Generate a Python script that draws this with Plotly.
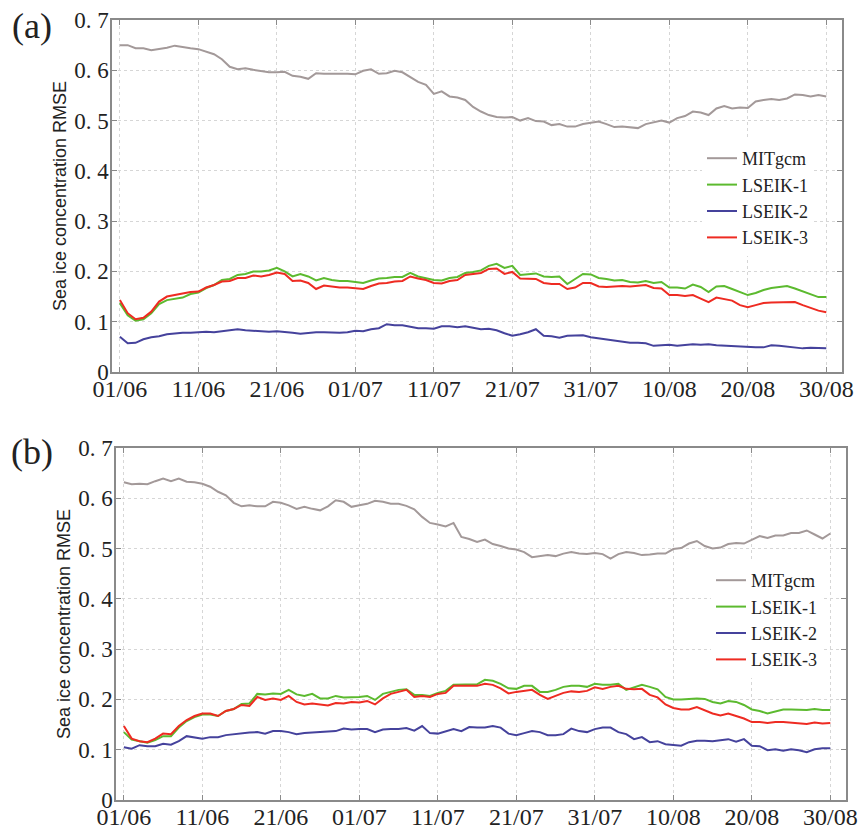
import plotly.graph_objects as go

days = list(range(91))
tick_days = [0, 10, 20, 30, 40, 50, 60, 70, 80, 90]
tick_labels = ["01/06", "11/06", "21/06", "01/07", "11/07", "21/07", "31/07", "10/08", "20/08", "30/08"]
y_ticks = [0, 0.1, 0.2, 0.3, 0.4, 0.5, 0.6, 0.7]
y_tick_labels = ["0", "0. 1", "0. 2", "0. 3", "0. 4", "0. 5", "0. 6", "0. 7"]
series_names = ["MITgcm", "LSEIK-1", "LSEIK-2", "LSEIK-3"]

# Panel (a)
a_mitgcm = [0.650, 0.650, 0.644, 0.644, 0.640, 0.642, 0.645, 0.649, 0.646, 0.644,
            0.642, 0.637, 0.632, 0.622, 0.607, 0.602, 0.604, 0.601, 0.599, 0.596,
            0.596, 0.597, 0.589, 0.587, 0.583, 0.594, 0.593, 0.593, 0.594, 0.593,
            0.592, 0.599, 0.602, 0.593, 0.594, 0.599, 0.596, 0.587, 0.577, 0.571,
            0.553, 0.558, 0.548, 0.546, 0.541, 0.527, 0.518, 0.511, 0.507, 0.506,
            0.507, 0.500, 0.505, 0.499, 0.498, 0.491, 0.493, 0.488, 0.488, 0.493,
            0.495, 0.498, 0.493, 0.487, 0.488, 0.486, 0.485, 0.493, 0.496, 0.500,
            0.496, 0.505, 0.509, 0.518, 0.516, 0.511, 0.524, 0.529, 0.524, 0.526,
            0.525, 0.538, 0.541, 0.543, 0.541, 0.544, 0.552, 0.551, 0.548, 0.551,
            0.548]
a_lseik1 = [0.137, 0.113, 0.102, 0.105, 0.117, 0.135, 0.143, 0.145, 0.148, 0.155,
            0.158, 0.167, 0.173, 0.183, 0.185, 0.193, 0.195, 0.200, 0.200, 0.202,
            0.207, 0.200, 0.190, 0.195, 0.190, 0.182, 0.187, 0.183, 0.181, 0.181,
            0.179, 0.177, 0.182, 0.186, 0.187, 0.189, 0.189, 0.197, 0.190, 0.186,
            0.183, 0.182, 0.187, 0.189, 0.197, 0.199, 0.202, 0.211, 0.215, 0.207,
            0.211, 0.193, 0.195, 0.196, 0.190, 0.189, 0.190, 0.175, 0.185, 0.195,
            0.194, 0.187, 0.185, 0.182, 0.183, 0.179, 0.178, 0.181, 0.177, 0.179,
            0.168, 0.168, 0.166, 0.174, 0.169, 0.159, 0.170, 0.171, 0.165, 0.159,
            0.153, 0.157, 0.163, 0.167, 0.169, 0.171, 0.166, 0.160, 0.155, 0.149,
            0.149]
a_lseik2 = [0.070, 0.057, 0.058, 0.065, 0.069, 0.071, 0.075, 0.077, 0.078, 0.078,
            0.079, 0.080, 0.079, 0.081, 0.082, 0.085, 0.083, 0.082, 0.081, 0.080,
            0.081, 0.080, 0.078, 0.076, 0.078, 0.079, 0.079, 0.078, 0.078, 0.079,
            0.082, 0.081, 0.085, 0.087, 0.095, 0.093, 0.093, 0.090, 0.087, 0.087,
            0.086, 0.091, 0.091, 0.089, 0.091, 0.088, 0.085, 0.086, 0.083, 0.077,
            0.072, 0.075, 0.079, 0.085, 0.072, 0.071, 0.068, 0.072, 0.073, 0.073,
            0.069, 0.067, 0.065, 0.063, 0.061, 0.058, 0.058, 0.057, 0.052, 0.053,
            0.054, 0.052, 0.054, 0.055, 0.054, 0.055, 0.053, 0.052, 0.052, 0.051,
            0.050, 0.049, 0.049, 0.053, 0.052, 0.050, 0.049, 0.047, 0.048, 0.047,
            0.047]
a_lseik3 = [0.143, 0.117, 0.105, 0.108, 0.120, 0.140, 0.150, 0.153, 0.155, 0.159,
            0.160, 0.168, 0.173, 0.180, 0.181, 0.187, 0.187, 0.192, 0.190, 0.193,
            0.198, 0.195, 0.181, 0.182, 0.177, 0.165, 0.172, 0.170, 0.168, 0.168,
            0.167, 0.165, 0.171, 0.176, 0.177, 0.180, 0.181, 0.190, 0.186, 0.183,
            0.177, 0.176, 0.181, 0.183, 0.193, 0.195, 0.197, 0.205, 0.206, 0.195,
            0.199, 0.186, 0.185, 0.185, 0.177, 0.175, 0.175, 0.165, 0.168, 0.177,
            0.177, 0.170, 0.169, 0.170, 0.171, 0.170, 0.171, 0.173, 0.167, 0.166,
            0.153, 0.153, 0.151, 0.153, 0.146, 0.139, 0.148, 0.145, 0.142, 0.133,
            0.129, 0.133, 0.137, 0.138, 0.138, 0.138, 0.139, 0.133, 0.127, 0.122,
            0.119]

# Panel (b)
b_mitgcm = [0.632, 0.628, 0.629, 0.628, 0.634, 0.639, 0.634, 0.639, 0.633, 0.632,
            0.629, 0.623, 0.613, 0.606, 0.591, 0.584, 0.586, 0.584, 0.584, 0.593,
            0.591, 0.586, 0.579, 0.583, 0.579, 0.576, 0.584, 0.596, 0.593, 0.583,
            0.586, 0.589, 0.595, 0.593, 0.589, 0.589, 0.585, 0.578, 0.563, 0.551,
            0.548, 0.544, 0.551, 0.523, 0.519, 0.513, 0.518, 0.509, 0.505, 0.500,
            0.498, 0.493, 0.483, 0.485, 0.487, 0.485, 0.490, 0.493, 0.490, 0.489,
            0.491, 0.489, 0.480, 0.489, 0.493, 0.491, 0.487, 0.488, 0.490, 0.490,
            0.499, 0.501, 0.510, 0.515, 0.505, 0.500, 0.502, 0.509, 0.511, 0.510,
            0.518, 0.525, 0.521, 0.526, 0.526, 0.531, 0.531, 0.536, 0.528, 0.520,
            0.530]
b_lseik1 = [0.135, 0.120, 0.117, 0.114, 0.119, 0.127, 0.127, 0.144, 0.157, 0.165,
            0.170, 0.170, 0.167, 0.177, 0.181, 0.191, 0.192, 0.211, 0.210, 0.212,
            0.211, 0.219, 0.210, 0.207, 0.211, 0.202, 0.202, 0.207, 0.204, 0.204,
            0.205, 0.207, 0.199, 0.211, 0.215, 0.219, 0.220, 0.209, 0.209, 0.207,
            0.213, 0.217, 0.229, 0.229, 0.230, 0.230, 0.239, 0.237, 0.231, 0.222,
            0.221, 0.227, 0.227, 0.215, 0.215, 0.219, 0.225, 0.227, 0.227, 0.225,
            0.231, 0.229, 0.229, 0.231, 0.219, 0.224, 0.229, 0.225, 0.220, 0.205,
            0.200, 0.200, 0.201, 0.202, 0.201, 0.195, 0.192, 0.197, 0.195, 0.189,
            0.180, 0.177, 0.172, 0.176, 0.180, 0.180, 0.179, 0.179, 0.181, 0.179,
            0.179]
b_lseik2 = [0.105, 0.102, 0.109, 0.107, 0.107, 0.112, 0.110, 0.117, 0.127, 0.125,
            0.122, 0.125, 0.125, 0.129, 0.131, 0.133, 0.134, 0.135, 0.132, 0.137,
            0.137, 0.135, 0.131, 0.133, 0.134, 0.135, 0.135, 0.137, 0.142, 0.140,
            0.141, 0.141, 0.135, 0.140, 0.141, 0.141, 0.143, 0.138, 0.147, 0.133,
            0.132, 0.137, 0.141, 0.137, 0.145, 0.144, 0.144, 0.147, 0.144, 0.132,
            0.129, 0.133, 0.137, 0.135, 0.129, 0.129, 0.131, 0.142, 0.137, 0.135,
            0.141, 0.144, 0.144, 0.135, 0.131, 0.121, 0.125, 0.115, 0.117, 0.111,
            0.110, 0.108, 0.115, 0.118, 0.118, 0.117, 0.119, 0.121, 0.116, 0.121,
            0.108, 0.107, 0.099, 0.101, 0.098, 0.101, 0.099, 0.095, 0.101, 0.103,
            0.103]
b_lseik3 = [0.147, 0.122, 0.117, 0.115, 0.122, 0.132, 0.131, 0.147, 0.159, 0.167,
            0.172, 0.172, 0.167, 0.177, 0.181, 0.189, 0.187, 0.205, 0.199, 0.202,
            0.199, 0.207, 0.195, 0.190, 0.192, 0.190, 0.188, 0.193, 0.192, 0.195,
            0.194, 0.197, 0.190, 0.202, 0.211, 0.215, 0.219, 0.205, 0.207, 0.205,
            0.211, 0.213, 0.227, 0.227, 0.227, 0.227, 0.231, 0.229, 0.222, 0.212,
            0.215, 0.217, 0.219, 0.209, 0.201, 0.207, 0.213, 0.216, 0.215, 0.217,
            0.224, 0.221, 0.225, 0.227, 0.221, 0.220, 0.221, 0.209, 0.204, 0.190,
            0.183, 0.180, 0.180, 0.185, 0.179, 0.172, 0.168, 0.172, 0.167, 0.162,
            0.155, 0.155, 0.153, 0.155, 0.155, 0.154, 0.152, 0.151, 0.154, 0.152,
            0.153]

colors = ["#a39999", "#5cba2f", "#45429c", "#ee2b22"]

W, H = 861, 831
SERIF = "Liberation Serif"
SANS = "Liberation Sans"

fig = go.Figure()

panels = [
    ([a_mitgcm, a_lseik1, a_lseik2, a_lseik3], "x", "y", "legend"),
    ([b_mitgcm, b_lseik1, b_lseik2, b_lseik3], "x2", "y2", "legend2"),
]
for data, xa, ya, lg in panels:
    for name, vals, col in zip(series_names, data, colors):
        fig.add_trace(go.Scatter(
            x=days, y=vals, mode="lines", name=name,
            line=dict(color=col, width=2),
            xaxis=xa, yaxis=ya, legend=lg,
        ))

# pixel boxes of the plot areas (left, right, top, bottom)
box_a = (112, 842, 20, 372)
box_b = (116, 846, 448, 800)

def xdom(b):
    return [b[0] / W, b[1] / W]

def ydom(b):
    return [1 - b[3] / H, 1 - b[2] / H]

axis_common = dict(
    automargin=False,
    showline=True, linecolor="#8a8a8a", linewidth=1.5, mirror="allticks",
    ticks="inside", ticklen=5, tickcolor="#8a8a8a", tickwidth=1.2,
    showgrid=True, gridcolor="#d6d6d6", griddash="dot", gridwidth=1,
    zeroline=False,
)

xcommon = dict(axis_common, range=[-1, 92], tickmode="array",
               tickvals=tick_days, ticktext=tick_labels, ticklabelstandoff=-6,
               tickfont=dict(family=SERIF, size=24, color="#222222"))
ycommon = dict(axis_common, range=[0, 0.7], tickmode="array",
               tickvals=y_ticks, ticktext=y_tick_labels, ticklabelstandoff=-3,
               tickfont=dict(family=SERIF, size=23, color="#222222"))

legend_font = dict(family=SERIF, size=18, color="#222222")
fig.update_layout(
    width=W, height=H,
    margin=dict(l=0, r=0, t=0, b=0, autoexpand=False),
    paper_bgcolor="white", plot_bgcolor="white",
    showlegend=True,
    xaxis=dict(xcommon, domain=xdom(box_a), anchor="y"),
    yaxis=dict(ycommon, domain=ydom(box_a), anchor="x"),
    xaxis2=dict(xcommon, domain=xdom(box_b), anchor="y2"),
    yaxis2=dict(ycommon, domain=ydom(box_b), anchor="x2"),
    legend=dict(x=702 / W, y=1 - 140 / H, xanchor="left", yanchor="top",
                bgcolor="white", borderwidth=0, font=legend_font),
    legend2=dict(x=711 / W, y=1 - 562 / H, xanchor="left", yanchor="top",
                 bgcolor="white", borderwidth=0, font=legend_font),
)

annotations = []
for tag, b, (lx, ly) in [("(a)", box_a, (32, 26)), ("(b)", box_b, (32, 452))]:
    annotations.append(dict(
        text=tag, x=lx / W, y=1 - ly / H, xref="paper", yref="paper",
        xanchor="center", yanchor="middle", showarrow=False,
        font=dict(family=SERIF, size=36, color="#222222")))
    annotations.append(dict(
        text="Sea ice concentration RMSE", textangle=-90,
        x=(b[0] - 52) / W, y=1 - ((b[2] + b[3]) / 2) / H,
        xref="paper", yref="paper", xanchor="center", yanchor="middle",
        showarrow=False, font=dict(family=SANS, size=18, color="#222222")))
fig.update_layout(annotations=annotations)

fig.write_html("out.html", config={"displayModeBar": False},
               post_script="document.body.style.margin='0px';")
